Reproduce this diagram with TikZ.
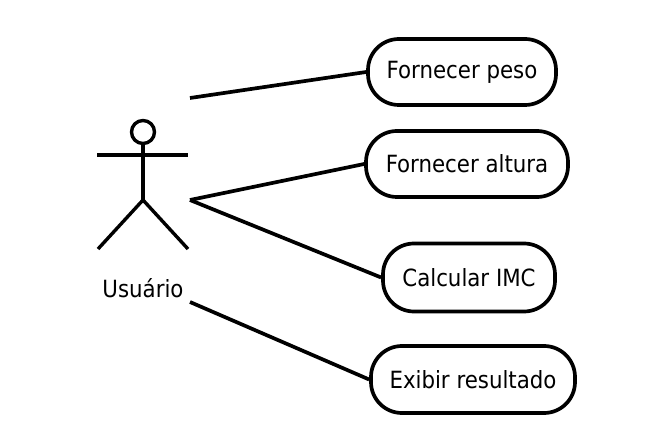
\documentclass[tikz,border=0pt]{standalone}
\usepackage{fontspec}
\setmainfont{DejaVu Sans Condensed}
\begin{document}
\begin{tikzpicture}[x=1pt,y=-1pt,
  usecase/.style={draw,line width=3.7pt,rounded corners=31pt,inner sep=0pt,
    font=\fontsize{23.7}{26}\selectfont,text=black,anchor=center},
  lbl/.style={font=\fontsize{23.7}{26}\selectfont,inner sep=0pt,text=black},
  conn/.style={line width=3.7pt},
  stick/.style={line width=3.4pt}]
\useasboundingbox (0,0) rectangle (645,430);
\path[fill=white] (0,0) rectangle (645,430);
\node[usecase,minimum width=188pt,minimum height=66pt] (a) at (462,72) {Fornecer peso};
\node[usecase,minimum width=202pt,minimum height=66pt] (b) at (467,164) {Fornecer altura};
\node[usecase,minimum width=172pt,minimum height=68pt] (c) at (469,277.5) {Calcular IMC};
\node[usecase,minimum width=204pt,minimum height=67pt] (d) at (473,379.5) {Exibir resultado};
\node[lbl] (u) at (143,288) {Usuário};
\coordinate (c1) at (190,98);
\coordinate (c2) at (190,200);
\coordinate (c4) at (190,302);
\draw[conn] (c1) -- (a.west);
\draw[conn] (c2) -- (b.west);
\draw[conn] (c2) -- (c.west);
\draw[conn] (c4) -- (d.west);
\draw[stick] (143,132) circle (11.5);
\draw[stick] (143,144) -- (143,200);
\draw[stick] (97,155) -- (188,155);
\draw[stick] (98,249) -- (143,200) -- (188,249);
\end{tikzpicture}
\end{document}
